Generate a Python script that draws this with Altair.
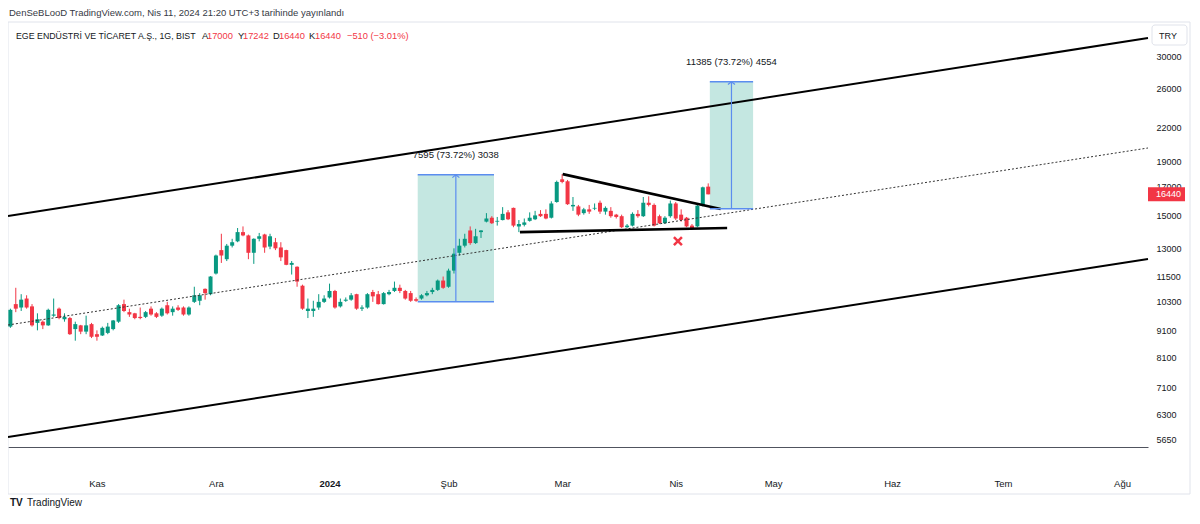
import altair as alt
import pandas as pd

# ---------------- data (daily candles, EGEEN, Oct 2023 - Apr 9 2024) ----------------
opens = [9250, 10200, 10050, 10450, 10100, 9400, 9450, 9300, 9700, 10000,
         9550, 9600, 9150, 9300, 9050, 9350, 8950, 8900, 9000, 9150,
         9450, 10200, 9850, 9800, 9650, 9650, 10000, 9800, 9700, 10150,
         9850, 10050, 10050, 9750, 10300, 10350, 10900, 10650, 11650, 12900,
         12400, 13150, 13400, 13950, 13750, 12750, 13550, 13800, 13100, 13350,
         13050, 12900, 12100, 12000, 11050, 9900, 9900, 10050, 10300, 10500,
         10800, 10100, 10350, 10400, 10650, 10000, 10050, 10750, 10650, 10200,
         10650, 10800, 10950, 10800, 10700, 10420, 10450, 10600, 10750, 10850,
         11300, 11000, 11800, 12750, 13150, 14050, 13300, 13950, 14600, 14850,
         14600, 14700, 15200, 15500, 14300, 14400, 14650, 14750, 15100, 15100,
         14850, 15900, 17550, 17400, 15600, 15600, 15150, 15400, 15450, 15850,
         15250, 15300, 15050, 14950, 14250, 14350, 15100, 14950, 15850, 15700,
         14950, 14500, 14950, 15800, 15050, 14850, 14350, 14300, 15650, 17000]
highs = [10000, 10950, 10650, 10600, 10200, 9800, 9500, 10000, 10450, 10050,
         9800, 9650, 9450, 9320, 9700, 9400, 9100, 9250, 9400, 9520,
         10200, 10400, 10000, 9820, 10050, 9900, 10100, 9850, 10050, 10300,
         10100, 10150, 10100, 10100, 11000, 10700, 10920, 11520, 12650, 13850,
         13250, 13550, 14200, 14300, 13800, 13580, 13900, 13850, 13850, 13600,
         13350, 12920, 12300, 12020, 11100, 10450, 10350, 10650, 10600, 11150,
         10850, 10450, 10500, 10700, 10670, 10150, 10700, 10850, 10800, 10750,
         10850, 11250, 11100, 10850, 10800, 10500, 10650, 10800, 10950, 11350,
         11500, 11900, 13000, 13550, 13850, 14300, 14150, 14070, 15150, 14950,
         14900, 15550, 15350, 15520, 14700, 14800, 15200, 15300, 15350, 15400,
         15950, 17450, 17950, 17500, 16250, 15700, 15500, 15700, 15800, 16000,
         15600, 15550, 15100, 15050, 14450, 15200, 15350, 16250, 16300, 15800,
         15050, 14950, 16000, 15900, 15400, 14900, 14450, 15700, 17000, 17242]
lows = [9200, 9850, 9900, 10000, 9250, 9100, 9150, 9280, 9650, 9550,
        9450, 8920, 8700, 8950, 8950, 8800, 8700, 8880, 8950, 9100,
        9400, 9850, 9650, 9550, 9550, 9600, 9700, 9600, 9650, 9750,
        9700, 9900, 9700, 9700, 10250, 10150, 10400, 10600, 11600, 12200,
        12300, 13050, 13350, 13700, 12400, 12150, 13400, 12750, 12950, 12900,
        12300, 12080, 11600, 11000, 9950, 9600, 9650, 9950, 10250, 10450,
        10000, 10050, 10300, 10350, 9950, 9900, 10000, 10300, 10180, 10180,
        10600, 10750, 10700, 10400, 10300, 10302, 10400, 10550, 10650, 10800,
        10900, 10950, 11650, 12600, 13050, 13200, 13250, 13600, 14550, 14450,
        14350, 14680, 14700, 14250, 13950, 14300, 14600, 14700, 14900, 14750,
        14800, 15850, 17250, 15700, 15300, 14950, 15050, 15100, 15350, 15100,
        15050, 14850, 14800, 14200, 14200, 14300, 14850, 14900, 15600, 14300,
        14450, 14450, 14850, 14700, 14600, 14250, 14100, 14250, 15600, 16440]
closes = [9950, 10000, 10400, 10050, 9300, 9550, 9300, 9950, 9750, 9600,
          9650, 8950, 9350, 9050, 9300, 8850, 8850, 9200, 9250, 9500,
          10150, 9900, 9750, 9600, 9600, 9850, 9750, 9650, 10000, 9800,
          10000, 9950, 9750, 10050, 10600, 10600, 10700, 11500, 12600, 12600,
          13150, 13350, 13950, 13750, 12750, 13550, 13700, 13050, 13700, 13000,
          12500, 12100, 12200, 11250, 10000, 10000, 10000, 10300, 10450, 10800,
          10050, 10300, 10400, 10600, 10000, 10050, 10650, 10550, 10200, 10700,
          10750, 10950, 10800, 10450, 10350, 10350, 10600, 10700, 10850, 11300,
          10950, 11800, 12700, 13150, 13550, 13300, 13700, 14050, 14800, 14500,
          14650, 15100, 14750, 14350, 14450, 14550, 14850, 15000, 14950, 14800,
          15800, 17350, 17350, 15750, 15700, 15050, 15400, 15250, 15500, 15250,
          15500, 14950, 14900, 14250, 14350, 15100, 14950, 15850, 15700, 14350,
          14500, 14850, 15800, 14800, 14700, 14300, 14200, 15650, 16950, 16440]

# time axis (bar index of first trading day of each month)
month_idx = [16, 38, 59, 81, 102, 123, 141, 163, 183.5, 205.5]
month_lbl = ["Kas", "Ara", "2024", "Şub", "Mar", "Nis", "May", "Haz", "Tem", "Ağu"]
price_ticks = [5650, 6300, 7100, 8100, 9100, 10300, 11500, 13000, 15000,
               17000, 19000, 22000, 26000, 30000]

# drawings (bar index, price)
line_names = ["upper", "upper", "lower", "lower", "mid", "mid",
              "tri_up", "tri_up", "tri_low", "tri_low"]
line_idx = [-0.44, 210.3, -0.44, 210.3, -0.44, 210.3, 102.1, 131.3, 94.2, 132.5]
line_px = [14960, 32440, 5725, 12410, 9315, 20110, 17950, 15430, 13950, 14200]

box_x0 = [75.3, 129.3]
box_x1 = [89.4, 137.3]
box_lo = [10302, 15444]
box_hi = [17897, 26829]
box_text = ["7595 (73.72%) 3038", "11385 (73.72%) 4554"]

xmark_idx = [123.4]
xmark_px = [13420]

header1 = "DenSeBLooD TradingView.com, Nis 11, 2024 21:20 UTC+3 tarihinde yayınlandı"
header2 = [("EGE ENDÜSTRİ VE TİCARET A.Ş., 1G, BIST", 8, "#131722", 8.8),
           ("A", 194, "#131722", 9.3), ("17000", 199, "#F23645", 9.3),
           ("Y", 230, "#131722", 9.3), ("17242", 235, "#F23645", 9.3),
           ("D", 265, "#131722", 9.3), ("16440", 271, "#F23645", 9.3),
           ("K", 301, "#131722", 9.3), ("16440", 307, "#F23645", 9.3),
           ("−510 (−3.01%)", 339, "#F23645", 9.3)]

# ---------------- build ----------------
GREEN = "#089981"
RED = "#F23645"
BLUE = "#5b8def"
TXT = "#131722"
FONT = "Liberation Sans"

n = len(opens)
candles = pd.DataFrame({"i": list(range(n)), "open": opens, "high": highs,
                        "low": lows, "close": closes})
candles["dir"] = ["up" if c >= o else "down" for o, c in zip(opens, closes)]

lines = pd.DataFrame({"name": line_names, "i": line_idx, "p": line_px})
boxes = pd.DataFrame({"x0": box_x0, "x1": box_x1, "lo": box_lo, "hi": box_hi,
                      "label": box_text})
boxes["xc"] = (boxes["x0"] + boxes["x1"]) / 2
xmark = pd.DataFrame({"i": xmark_idx, "p": xmark_px})
last = pd.DataFrame({"p": [closes[-1]], "t": [str(closes[-1])]})
one = pd.DataFrame({"k": [0]})

xs = alt.Scale(domain=[-0.44, 210.3], nice=False, zero=False, padding=0)
ys = alt.Scale(type="log", domain=[5480, 34780], nice=False, padding=0)

label_expr = ("[" + ",".join("'%s'" % l for l in month_lbl) + "][indexof(["
              + ",".join(str(v) for v in month_idx) + "], datum.value)]")

xaxis = alt.Axis(values=month_idx, labelExpr=label_expr, title=None, grid=False,
                 ticks=False, domain=True, domainColor="#50535e", domainWidth=1,
                 labelPadding=31, labelFont=FONT, labelFontSize=9.5, labelColor=TXT,
                 labelFontWeight={"condition": {"test": "datum.value == 59", "value": "bold"},
                                  "value": "normal"},
                 labelFlush=False, labelOverlap=False)
yaxis = alt.Axis(orient="right", values=price_ticks, title=None, grid=False,
                 ticks=False, domain=False, labelPadding=8, labelFont=FONT,
                 labelFontSize=9, labelColor=TXT, labelOverlap=False,
                 labelFlush=False, zindex=0, format="d")


def X(f):
    return alt.X(f, type="quantitative", scale=xs, axis=xaxis)


def Y(f):
    return alt.Y(f, type="quantitative", scale=ys, axis=yaxis)


col = alt.Color("dir:N", scale=alt.Scale(domain=["up", "down"], range=[GREEN, RED]),
                legend=None)

border = alt.Chart(one).mark_rect(fillOpacity=0, stroke="#e0e3eb", strokeWidth=1).encode(
    x=alt.value(0), x2=alt.value(1182), y=alt.value(0), y2=alt.value(472))

box_fill = alt.Chart(boxes).mark_rect(color=GREEN, opacity=0.24).encode(
    x=X("x0"), x2="x1", y=Y("lo"), y2="hi")

wicks = alt.Chart(candles).mark_rule(strokeWidth=1).encode(
    x=X("i"), y=Y("low"), y2="high", color=col)
bodies = alt.Chart(candles).mark_bar(size=4).encode(
    x=X("i"), y=Y("open"), y2="close", color=col)

mid = alt.Chart(lines).transform_filter("datum.name == 'mid'").mark_line(
    color="#333", strokeWidth=1, strokeDash=[2, 2]).encode(x=X("i"), y=Y("p"), detail="name:N")
channel = alt.Chart(lines).transform_filter(
    "datum.name == 'upper' || datum.name == 'lower'").mark_line(
    color="black", strokeWidth=2).encode(x=X("i"), y=Y("p"), detail="name:N")
tri = alt.Chart(lines).transform_filter(
    "datum.name == 'tri_up' || datum.name == 'tri_low'").mark_line(
    color="black", strokeWidth=2.6).encode(x=X("i"), y=Y("p"), detail="name:N")

box_top = alt.Chart(boxes).mark_rule(color=BLUE, strokeWidth=1.5).encode(
    x=X("x0"), x2="x1", y=Y("hi"))
box_bot = alt.Chart(boxes).mark_rule(color=BLUE, strokeWidth=1.5).encode(
    x=X("x0"), x2="x1", y=Y("lo"))
arrow = alt.Chart(boxes).mark_rule(color=BLUE, strokeWidth=1.2).encode(
    x=X("xc"), y=Y("lo"), y2="hi")
arrow_head = alt.Chart(boxes).mark_point(shape="M-1,0.8L0,0L1,0.8", filled=False, size=49,
                                         strokeWidth=1.2, color=BLUE, opacity=1).encode(
    x=X("xc"), y=Y("hi"))
box_lbl = alt.Chart(boxes).mark_text(dy=-20, fontSize=9.5, font=FONT, color=TXT).encode(
    x=X("xc"), y=Y("hi"), text="label:N")

xm = alt.Chart(xmark).mark_point(shape="M-1,-1L1,1M-1,1L1,-1", filled=False, size=64,
                                 strokeWidth=2.5, color=RED, opacity=1).encode(
    x=X("i"), y=Y("p"))

price_box = alt.Chart(last).mark_rect(height=14, color=RED).encode(
    x=alt.value(1140), x2=alt.value(1177), y=Y("p"))
price_txt = alt.Chart(last).mark_text(align="left", baseline="middle", color="white",
                                      fontSize=9, font=FONT).encode(
    x=alt.value(1148), y=Y("p"), text="t:N")

texts = [alt.Chart(one).mark_text(text=header1, align="left", baseline="middle",
                                  fontSize=9.5, font=FONT, color="#363a45").encode(
    x=alt.value(1), y=alt.value(-9))]
for s, px, c, fs in header2:
    texts.append(alt.Chart(one).mark_text(text=s, align="left", baseline="middle",
                                          fontSize=fs, font=FONT, color=c).encode(
        x=alt.value(px), y=alt.value(14)))

try_box = alt.Chart(one).mark_rect(fill="white", stroke="#e0e3eb", cornerRadius=3).encode(
    x=alt.value(1144), x2=alt.value(1179), y=alt.value(3), y2=alt.value(23))
try_txt = alt.Chart(one).mark_text(text="TRY", align="center", baseline="middle",
                                   fontSize=9, font=FONT, color=TXT).encode(
    x=alt.value(1160), y=alt.value(14))

logo = alt.Chart(one).mark_text(text="TV", align="left", baseline="middle", fontSize=10,
                                font=FONT, fontWeight="bold", color=TXT).encode(
    x=alt.value(2), y=alt.value(481))
logo_txt = alt.Chart(one).mark_text(text="TradingView", align="left", baseline="middle",
                                    fontSize=10, font=FONT, color=TXT).encode(
    x=alt.value(19), y=alt.value(481))

chart = alt.layer(
    border, box_fill, wicks, bodies, mid, channel, tri,
    box_top, box_bot, arrow, arrow_head, box_lbl, xm,
    price_box, price_txt, try_box, try_txt, logo, logo_txt, *texts
).properties(
    width=1140, height=425,
    autosize=alt.AutoSizeParams(type="none"),
    padding={"left": 0, "top": 14, "right": 44, "bottom": 62},
    background="white",
).configure_view(strokeWidth=0)

chart.save("out.html", embed_options={"renderer": "svg", "actions": False})
